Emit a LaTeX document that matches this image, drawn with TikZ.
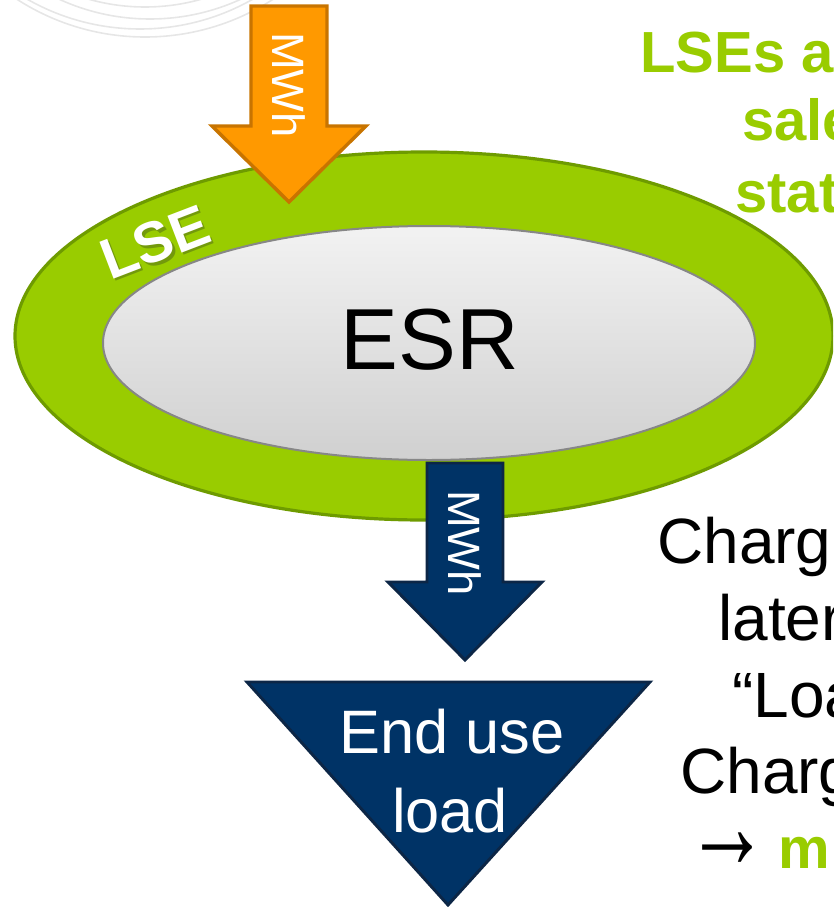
\documentclass[tikz,border=0pt]{standalone}
\usepackage{fontspec}
\setmainfont{Liberation Sans}
\definecolor{lsegreen}{RGB}{153,204,0}
\definecolor{lseborder}{RGB}{110,155,0}
\definecolor{lseshade}{RGB}{90,120,20}
\definecolor{orfill}{RGB}{255,153,0}
\definecolor{orborder}{RGB}{200,116,0}
\definecolor{navyfill}{RGB}{0,51,102}
\definecolor{navyborder}{RGB}{12,38,70}
\definecolor{arcgray}{RGB}{230,230,230}
\definecolor{esrtop}{RGB}{242,242,242}
\definecolor{esrbot}{RGB}{208,208,208}
\definecolor{esrborder}{RGB}{135,135,135}
\tikzset{
  swoosh/.style={draw=arcgray, line width=1.2pt},
  lsering/.style={draw=lseborder, fill=lsegreen, line width=2.4pt},
  esrdisk/.style={draw=esrborder, line width=1.5pt, top color=esrtop, bottom color=esrbot},
  orarrow/.style={draw=orborder, fill=orfill, line width=2.6pt, line join=miter},
  navyarrow/.style={draw=navyborder, fill=navyfill, line width=2.2pt, line join=miter},
  mwh/.style={text=white, rotate=-90, inner sep=0pt, font=\fontsize{34}{40}\selectfont},
  lsetxt/.style={rotate=21, inner sep=0pt, font=\fontsize{43}{50}\selectfont\bfseries},
  greentxt/.style={text=lsegreen, anchor=base west, inner sep=0pt, font=\fontsize{43.5}{50}\selectfont\bfseries},
  blacktxt/.style={text=black, anchor=base west, inner sep=0pt, font=\fontsize{48}{56}\selectfont},
}
\begin{document}
\begin{tikzpicture}[x=0.75pt,y=-0.75pt]
\useasboundingbox (0,0) rectangle (833,907);
\clip (0,0) rectangle (833,907);
% faint swooshes top-left
\draw[swoosh] (145,-199) circle [radius=236];
\draw[swoosh] (140,-199) circle [radius=228];
\draw[swoosh] (150,-199) circle [radius=218];
\draw[swoosh] (145,-199) circle [radius=206];
% LSE ring
\path[lsering] (424,336) ellipse [x radius=409, y radius=184];
\path[esrdisk] (429,343) ellipse [x radius=326, y radius=117];
\node[lsetxt, text=lseshade, opacity=0.6] (lseshadow) at (157.5,244.5) {LSE};
\node[lsetxt, text=white] (lse) at (155,242) {LSE};
\node[anchor=base, inner sep=0pt, font=\fontsize{65}{75}\selectfont] (esr) at (430,369) {ESR};
% orange arrow in
\path[orarrow] (251,6) -- (327,6) -- (327,126) -- (366,126) -- (289,202) -- (212,126) -- (251,126) -- cycle;
\node[mwh] (mwhin) at (289,85) {MWh};
% navy arrow out
\path[navyarrow] (427,463) -- (503,463) -- (503,582) -- (542,582) -- (465,660) -- (388,582) -- (427,582) -- cycle;
\node[mwh] (mwhout) at (465,543) {MWh};
% end use load triangle
\path[navyarrow] (247,682) -- (650,682) -- (448,905) -- cycle;
\node[text=white, anchor=base, inner sep=0pt, font=\fontsize{46}{54}\selectfont] (enduse) at (452,753) {End use};
\node[text=white, anchor=base, inner sep=0pt, font=\fontsize{46}{54}\selectfont] (endload) at (450,832) {load};
% right texts (cut by the page edge)
\node[greentxt] (g1) at (640,72) {LSEs a};
\node[greentxt] (g2) at (742,140) {sale};
\node[greentxt] (g3) at (735,212) {stat};
\node[blacktxt] (b1) at (657,563) {Charg};
\node[blacktxt] (b2) at (718,640) {later};
\node[blacktxt] (b3) at (732,717) {“Loa};
\node[blacktxt] (b4) at (680,793) {Charg};
\node[inner sep=0pt] (b5) at (727,851) {\fontsize{63}{70}\selectfont\scalebox{1}[1.5]{→}};
\node[greentxt] (b6) at (778,868) {m};
\end{tikzpicture}
\end{document}
